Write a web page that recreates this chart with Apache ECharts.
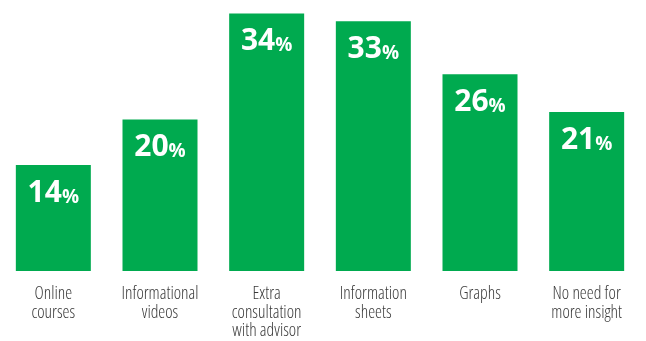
<!DOCTYPE html>
<html>
<head>
<meta charset="utf-8">
<script src="https://cdn.jsdelivr.net/npm/echarts@6/dist/echarts.min.js"></script>
<style>
  html, body { margin: 0; padding: 0; background: #fff; }
  #chart { width: 646px; height: 341px; }
</style>
</head>
<body>
<div id="chart"></div>
<script>
// Share of respondents wanting each type of extra information
const categories = [
  'Online\ncourses',
  'Informational\nvideos',
  'Extra\nconsultation\nwith advisor',
  'Information\nsheets',
  'Graphs',
  'No need for\nmore insight'
];
const values = [14, 20, 34, 33, 26, 21];

const chart = echarts.init(document.getElementById('chart'), null, { renderer: 'canvas' });

chart.setOption({
  animation: false,
  backgroundColor: '#ffffff',
  grid: { left: -2, right: 6, top: 6, bottom: 70, containLabel: false },
  xAxis: {
    type: 'category',
    data: categories,
    axisLine: { show: false },
    axisTick: { show: false },
    axisLabel: {
      interval: 0,
      margin: 14,
      fontFamily: 'Open Sans',
      fontWeight: '300 condensed',
      fontSize: 17.5,
      lineHeight: 18.5,
      color: '#3a3a3a',
      verticalAlign: 'top'
    }
  },
  yAxis: {
    type: 'value',
    min: 0,
    max: 35,
    show: false,
    splitLine: { show: false }
  },
  series: [{
    type: 'bar',
    data: values,
    barWidth: 75,
    itemStyle: { color: '#00aa4f' },
    label: {
      show: true,
      position: 'insideTop',
      distance: 12,
      formatter: p => '{n|' + p.value + '}{p|%}',
      rich: {
        n: { fontFamily: 'Open Sans', fontWeight: 'bold', fontSize: 30, color: '#ffffff', lineHeight: 32 },
        p: { fontFamily: 'Open Sans', fontWeight: 'bold', fontSize: 19, color: '#ffffff', lineHeight: 32, verticalAlign: 'bottom', padding: [0, 0, 2, 0] }
      }
    }
  }]
});
</script>
</body>
</html>
